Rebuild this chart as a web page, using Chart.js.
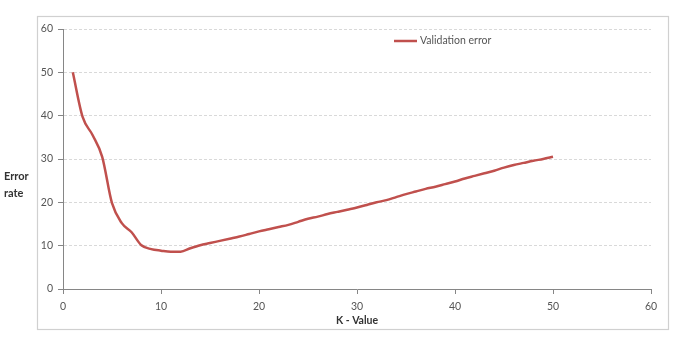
<!DOCTYPE html>
<html><head><meta charset="utf-8">
<script src="https://cdn.jsdelivr.net/npm/chart.js@4/dist/chart.umd.min.js"></script>
<style>html,body{margin:0;padding:0;background:#fff}#wrap{width:684px;height:351px}</style>
</head><body><div id="wrap"><canvas id="c" width="684" height="351"></canvas></div>
<script>
const kValues = [1,2,3,4,5,6,7,8,9,10,11,12,13,14,15,16,17,18,19,20,21,22,23,24,25,26,27,28,29,30,31,32,33,34,35,36,37,38,39,40,41,42,43,44,45,46,47,48,49,50];
const errorRate = [50,39.7,35.6,30.5,19.8,15.2,13.1,10.1,9.2,8.85,8.6,8.6,9.4,10.1,10.6,11.1,11.6,12.1,12.7,13.3,13.8,14.3,14.8,15.5,16.2,16.7,17.3,17.8,18.3,18.8,19.4,20.0,20.5,21.2,21.9,22.5,23.1,23.6,24.2,24.8,25.5,26.1,26.7,27.3,28.0,28.6,29.1,29.6,30.0,30.5];
const xTicks = [0,10,20,30,40,50,60];
const yTicks = [0,10,20,30,40,50,60];
const seriesName = 'Validation error';
const xTitle = 'K - Value';
const yTitle = ['Error','rate'];

const FONT = 'Lato, "Open Sans", sans-serif';
const TXT = '#555555';

const deco = {
  id:'deco',
  afterDraw(chart){
    const ctx = chart.ctx;
    ctx.save();
    ctx.strokeStyle = '#d0d0d0';
    ctx.lineWidth = 1.2;
    ctx.strokeRect(37.5, 16.5, 631, 313);
    ctx.fillStyle = '#333333';
    ctx.font = 'bold 11px ' + FONT;
    ctx.textAlign = 'left';
    ctx.textBaseline = 'middle';
    ctx.fillText(yTitle[0], 4, 176);
    ctx.fillText(yTitle[1], 4, 193);
    ctx.strokeStyle = '#c0504d';
    ctx.lineWidth = 2.5;
    ctx.beginPath(); ctx.moveTo(394, 41); ctx.lineTo(417, 41); ctx.stroke();
    ctx.fillStyle = TXT;
    ctx.font = '10.5px ' + FONT;
    ctx.fillText(seriesName, 420, 41);
    ctx.restore();
  }
};

new Chart(document.getElementById('c'), {
  type:'line',
  data:{ datasets:[{ label:seriesName, data:kValues.map((k,i)=>({x:k,y:errorRate[i]})),
    borderColor:'#c0504d', borderWidth:2.5, pointRadius:0, tension:0.4, cubicInterpolationMode:'monotone', fill:false }]},
  options:{
    responsive:false, animation:false, devicePixelRatio:1,
    layout:{ padding:{ top:29, right:33, left:0, bottom:24 } },
    plugins:{ legend:{display:false}, tooltip:{enabled:false} },
    scales:{
      x:{ type:'linear', min:0, max:60,
        afterBuildTicks(s){ s.ticks = xTicks.map(v=>({value:v})); },
        afterFit(s){ s.height = 38; },
        grid:{ drawOnChartArea:false, tickLength:5, tickColor:'#868686' },
        border:{ color:'#868686', width:1 },
        ticks:{ color:TXT, font:{family:FONT, size:10.5}, padding:6, maxRotation:0 },
        title:{ display:true, text:xTitle, color:'#333333', font:{family:FONT, size:10.5, weight:'bold'}, padding:{top:0,bottom:0} }
      },
      y:{ type:'linear', min:0, max:60,
        afterBuildTicks(s){ s.ticks = yTicks.map(v=>({value:v})); },
        afterFit(s){ s.width = 63; },
        grid:{ color:'#d9d9d9', tickLength:5, tickColor:'#868686' },
        border:{ color:'#868686', width:1, dash:[3,2] },
        ticks:{ color:TXT, font:{family:FONT, size:10.5}, padding:5 }
      }
    }
  },
  plugins:[deco]
});
</script></body></html>
